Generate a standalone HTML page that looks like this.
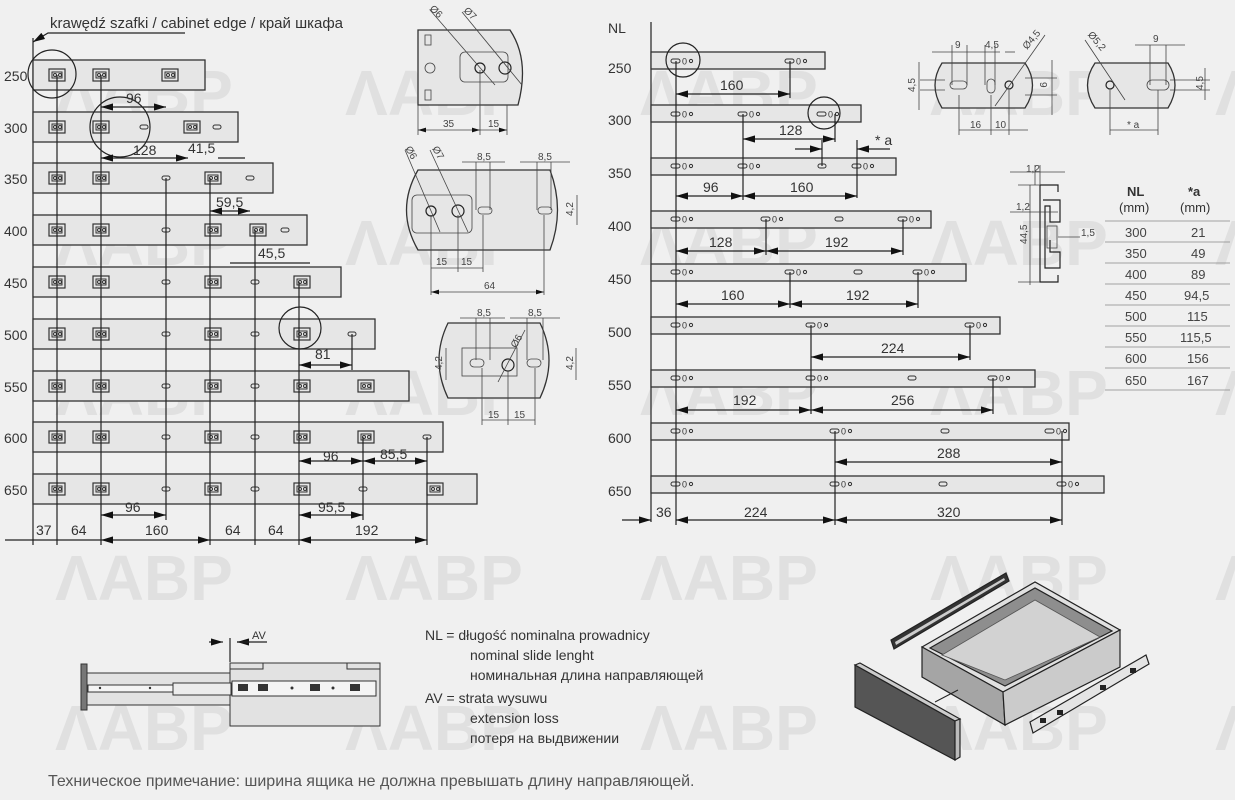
<!DOCTYPE html>
<html><head><meta charset="utf-8"><style>
html,body{margin:0;padding:0;background:#f0f0f0;}
svg{display:block;font-family:"Liberation Sans","DejaVu Sans",sans-serif;}
.wm{font-size:64px;font-weight:bold;fill:#e0e0e0;}
.r{fill:#e6e6e6;stroke:#333;stroke-width:1.3}
.l{stroke:#222;stroke-width:1.2;fill:none}
.t{stroke:#444;stroke-width:0.8;fill:none}
.n{font-size:14px;fill:#333}
.s{font-size:10px;fill:#444}
.lab{font-size:14px;fill:#333}
</style></head><body>
<svg width="1235" height="800" viewBox="0 0 1235 800" xmlns="http://www.w3.org/2000/svg">
<defs>
<marker id="a" viewBox="0 0 10 6" refX="10" refY="3" markerWidth="10" markerHeight="6" orient="auto-start-reverse"><path d="M0,0L10,3L0,6z" fill="#111"/></marker>
<g id="ic"><rect x="-8" y="-6" width="16" height="12" fill="none" stroke="#333" stroke-width="1.2"/><rect x="-5" y="-3" width="10" height="6" fill="none" stroke="#333"/><circle cx="-2" cy="0" r="1.5" fill="none" stroke="#333"/><circle cx="3" cy="0" r="1.5" fill="none" stroke="#333"/></g>
<g id="sl"><rect x="-4" y="-2" width="8" height="4" rx="2" fill="none" stroke="#333"/></g>
<g id="rh"><rect x="-5" y="-2" width="9" height="4" rx="2" fill="none" stroke="#333"/><text x="6" y="3.5" font-size="9" fill="#333">0</text><circle cx="15" cy="0" r="1.6" fill="none" stroke="#333"/></g>
</defs>

<g class="wm">
<text x="55" y="115">ΛАВР</text><text x="345" y="115">ΛАВР</text><text x="640" y="115">ΛАВР</text><text x="930" y="115">ΛАВР</text><text x="1215" y="115">Λ</text>
<text x="55" y="265">ΛАВР</text><text x="345" y="265">ΛАВР</text><text x="640" y="265">ΛАВР</text><text x="930" y="265">ΛАВР</text><text x="1215" y="265">Λ</text>
<text x="55" y="415">ΛАВР</text><text x="345" y="415">ΛАВР</text><text x="640" y="415">ΛАВР</text><text x="930" y="415">ΛАВР</text><text x="1215" y="415">Λ</text>
<text x="55" y="600">ΛАВР</text><text x="345" y="600">ΛАВР</text><text x="640" y="600">ΛАВР</text><text x="930" y="600">ΛАВР</text><text x="1215" y="600">Λ</text>
<text x="55" y="750">ΛАВР</text><text x="345" y="750">ΛАВР</text><text x="640" y="750">ΛАВР</text><text x="930" y="750">ΛАВР</text><text x="1215" y="750">Λ</text>
</g>

<text x="50" y="28" font-size="15" fill="#333">krawędź szafki / cabinet edge / край шкафа</text>
<path class="l" d="M185,33H48L33,42" marker-end="url(#a)"/>
<line class="l" x1="33" y1="38" x2="33" y2="545"/>
<g class="r">
<rect x="33" y="60" width="172" height="30"/>
<rect x="33" y="112" width="205" height="30"/>
<rect x="33" y="163" width="240" height="30"/>
<rect x="33" y="215" width="274" height="30"/>
<rect x="33" y="267" width="308" height="30"/>
<rect x="33" y="319" width="342" height="30"/>
<rect x="33" y="371" width="376" height="30"/>
<rect x="33" y="422" width="410" height="30"/>
<rect x="33" y="474" width="444" height="30"/>
</g>
<g font-size="14" fill="#333">
<text x="4" y="81">250</text><text x="4" y="133">300</text><text x="4" y="184">350</text><text x="4" y="236">400</text><text x="4" y="288">450</text><text x="4" y="340">500</text><text x="4" y="392">550</text><text x="4" y="443">600</text><text x="4" y="495">650</text>
</g>
<g>
<use href="#ic" x="57" y="75"/><use href="#ic" x="101" y="75"/><use href="#ic" x="170" y="75"/>
<use href="#ic" x="57" y="127"/><use href="#ic" x="101" y="127"/><use href="#sl" x="144" y="127"/><use href="#ic" x="192" y="127"/><use href="#sl" x="217" y="127"/>
<use href="#ic" x="57" y="178"/><use href="#ic" x="101" y="178"/><use href="#sl" x="166" y="178"/><use href="#ic" x="213" y="178"/><use href="#sl" x="250" y="178"/>
<use href="#ic" x="57" y="230"/><use href="#ic" x="101" y="230"/><use href="#sl" x="166" y="230"/><use href="#ic" x="213" y="230"/><use href="#ic" x="258" y="230"/><use href="#sl" x="285" y="230"/>
<use href="#ic" x="57" y="282"/><use href="#ic" x="101" y="282"/><use href="#sl" x="166" y="282"/><use href="#ic" x="213" y="282"/><use href="#sl" x="255" y="282"/><use href="#ic" x="302" y="282"/>
<use href="#ic" x="57" y="334"/><use href="#ic" x="101" y="334"/><use href="#sl" x="166" y="334"/><use href="#ic" x="213" y="334"/><use href="#sl" x="255" y="334"/><use href="#ic" x="302" y="334"/><use href="#sl" x="352" y="334"/>
<use href="#ic" x="57" y="386"/><use href="#ic" x="101" y="386"/><use href="#sl" x="166" y="386"/><use href="#ic" x="213" y="386"/><use href="#sl" x="255" y="386"/><use href="#ic" x="302" y="386"/><use href="#ic" x="366" y="386"/>
<use href="#ic" x="57" y="437"/><use href="#ic" x="101" y="437"/><use href="#sl" x="166" y="437"/><use href="#ic" x="213" y="437"/><use href="#sl" x="255" y="437"/><use href="#ic" x="302" y="437"/><use href="#ic" x="366" y="437"/><use href="#sl" x="427" y="437"/>
<use href="#ic" x="57" y="489"/><use href="#ic" x="101" y="489"/><use href="#sl" x="166" y="489"/><use href="#ic" x="213" y="489"/><use href="#sl" x="255" y="489"/><use href="#ic" x="302" y="489"/><use href="#sl" x="363" y="489"/><use href="#ic" x="435" y="489"/>
</g>
<g class="l">
<line x1="57" y1="75" x2="57" y2="545"/><line x1="101" y1="75" x2="101" y2="545"/>
<line x1="166" y1="178" x2="166" y2="520"/><line x1="210" y1="178" x2="210" y2="545"/>
<line x1="255" y1="230" x2="255" y2="545"/><line x1="299" y1="282" x2="299" y2="545"/>
<line x1="427" y1="437" x2="427" y2="545"/><line x1="363" y1="437" x2="363" y2="520"/>
<line x1="352" y1="334" x2="352" y2="370"/>
</g>
<circle class="l" cx="52" cy="74" r="24"/>
<circle class="l" cx="120" cy="127" r="30"/>
<circle class="l" cx="300" cy="328" r="21"/>
<g class="l" marker-start="url(#a)" marker-end="url(#a)">
<line x1="101" y1="107" x2="166" y2="107"/>
<line x1="101" y1="158" x2="188" y2="158"/>
<line x1="210" y1="211" x2="250" y2="211"/>
<line x1="299" y1="365" x2="352" y2="365"/>
<line x1="299" y1="461" x2="363" y2="461"/>
<line x1="363" y1="461" x2="427" y2="461"/>
<line x1="101" y1="515" x2="166" y2="515"/>
<line x1="299" y1="515" x2="363" y2="515"/>
<line x1="101" y1="540" x2="210" y2="540"/>
<line x1="299" y1="540" x2="427" y2="540"/>
</g>
<g class="l"><line x1="5" y1="540" x2="101" y2="540"/><line x1="210" y1="540" x2="299" y2="540"/><line x1="218" y1="158" x2="245" y2="158"/><line x1="230" y1="263" x2="310" y2="263"/></g>
<g class="n">
<text x="126" y="103">96</text><text x="133" y="155">128</text><text x="188" y="153">41,5</text><text x="216" y="207">59,5</text><text x="258" y="258">45,5</text>
<text x="315" y="359">81</text><text x="323" y="461">96</text><text x="380" y="459">85,5</text><text x="125" y="512">96</text><text x="318" y="512">95,5</text>
<text x="36" y="535">37</text><text x="71" y="535">64</text><text x="145" y="535">160</text><text x="225" y="535">64</text><text x="268" y="535">64</text><text x="355" y="535">192</text>
</g>

<g>
<path class="r" d="M418,30H510Q530,60 518,105H418Z"/>
<rect class="t" x="460" y="52" width="48" height="30" rx="5"/>
<circle class="t" cx="430" cy="68" r="5"/><rect class="t" x="425" y="35" width="6" height="10"/><rect class="t" x="425" y="90" width="6" height="10"/>
<circle class="l" cx="480" cy="68" r="5"/><circle class="l" cx="505" cy="68" r="6"/>
<line class="t" x1="430" y1="10" x2="495" y2="85"/><line class="t" x1="462" y1="12" x2="522" y2="85"/>
<text class="s" x="428" y="12" transform="rotate(45 432 12)">Ø6</text><text class="s" x="462" y="14" transform="rotate(45 466 14)">Ø7</text>
<line class="t" x1="418" y1="105" x2="418" y2="135"/><line class="t" x1="480" y1="70" x2="480" y2="135"/><line class="t" x1="507" y1="105" x2="507" y2="135"/>
<line class="t" x1="418" y1="130" x2="480" y2="130" marker-start="url(#a)" marker-end="url(#a)"/><line class="t" x1="480" y1="130" x2="507" y2="130" marker-end="url(#a)"/>
<text class="s" x="443" y="127">35</text><text class="s" x="488" y="127">15</text>

<path class="r" d="M418,170H550Q565,210 550,250H418Q395,210 418,170Z"/>
<rect class="t" x="412" y="195" width="60" height="38" rx="5"/>
<circle class="l" cx="431" cy="211" r="5"/><circle class="l" cx="458" cy="211" r="6"/>
<rect class="t" x="478" y="207" width="14" height="7" rx="3.5"/><rect class="t" x="538" y="207" width="14" height="7" rx="3.5"/>
<line class="t" x1="405" y1="150" x2="440" y2="232"/><line class="t" x1="430" y1="150" x2="468" y2="232"/>
<text class="s" x="403" y="152" transform="rotate(60 407 152)">Ø6</text><text class="s" x="430" y="152" transform="rotate(60 434 152)">Ø7</text>
<g class="t"><line x1="476" y1="162" x2="476" y2="210"/><line x1="490" y1="162" x2="490" y2="210"/><line x1="537" y1="162" x2="537" y2="210"/><line x1="551" y1="162" x2="551" y2="210"/>
<line x1="431" y1="215" x2="431" y2="295"/><line x1="458" y1="215" x2="458" y2="272"/><line x1="483" y1="215" x2="483" y2="272"/><line x1="544" y1="215" x2="544" y2="295"/>
<line x1="462" y1="162" x2="505" y2="162"/><line x1="520" y1="162" x2="570" y2="162"/>
<line x1="431" y1="268" x2="483" y2="268"/><line x1="431" y1="292" x2="544" y2="292" marker-start="url(#a)" marker-end="url(#a)"/>
<line x1="577" y1="195" x2="577" y2="225"/></g>
<text class="s" x="477" y="160">8,5</text><text class="s" x="538" y="160">8,5</text><text class="s" x="436" y="265">15</text><text class="s" x="461" y="265">15</text><text class="s" x="484" y="289">64</text>
<text class="s" x="573" y="216" transform="rotate(-90 573 216)">4,2</text>

<path class="r" d="M448,323H540Q558,360 540,398H448Q430,360 448,323Z"/>
<rect class="t" x="462" y="348" width="55" height="28"/>
<rect class="t" x="470" y="359" width="14" height="8" rx="4"/><rect class="t" x="527" y="359" width="14" height="8" rx="4"/>
<circle class="l" cx="508" cy="365" r="6"/>
<line class="t" x1="498" y1="382" x2="525" y2="330"/>
<text class="s" x="514" y="345" transform="rotate(-60 518 345)">Ø6</text>
<g class="t"><line x1="460" y1="318" x2="505" y2="318"/><line x1="510" y1="318" x2="560" y2="318"/><line x1="476" y1="318" x2="476" y2="360"/><line x1="490" y1="318" x2="490" y2="360"/><line x1="527" y1="318" x2="527" y2="360"/><line x1="543" y1="318" x2="543" y2="360"/>
<line x1="482" y1="368" x2="482" y2="425"/><line x1="508" y1="371" x2="508" y2="425"/><line x1="535" y1="368" x2="535" y2="425"/><line x1="482" y1="420" x2="535" y2="420"/>
<line x1="446" y1="348" x2="446" y2="380"/><line x1="576" y1="348" x2="576" y2="380"/></g>
<text class="s" x="477" y="316">8,5</text><text class="s" x="528" y="316">8,5</text><text class="s" x="488" y="418">15</text><text class="s" x="514" y="418">15</text>
<text class="s" x="442" y="370" transform="rotate(-90 442 370)">4,2</text><text class="s" x="573" y="370" transform="rotate(-90 573 370)">4,2</text>
</g>

<text x="608" y="33" font-size="14" fill="#333">NL</text>
<line class="l" x1="651" y1="22" x2="651" y2="522"/>
<g class="r">
<rect x="651" y="52" width="174" height="17"/>
<rect x="651" y="105" width="210" height="17"/>
<rect x="651" y="158" width="245" height="17"/>
<rect x="651" y="211" width="280" height="17"/>
<rect x="651" y="264" width="315" height="17"/>
<rect x="651" y="317" width="349" height="17"/>
<rect x="651" y="370" width="384" height="17"/>
<rect x="651" y="423" width="418" height="17"/>
<rect x="651" y="476" width="453" height="17"/>
</g>
<g font-size="14" fill="#333">
<text x="608" y="73">250</text><text x="608" y="125">300</text><text x="608" y="178">350</text><text x="608" y="231">400</text><text x="608" y="284">450</text><text x="608" y="337">500</text><text x="608" y="390">550</text><text x="608" y="443">600</text><text x="608" y="496">650</text>
</g>
<g>
<use href="#rh" x="676" y="61"/><use href="#rh" x="790" y="61"/>
<use href="#rh" x="676" y="114"/><use href="#rh" x="743" y="114"/><use href="#rh" x="822" y="114"/>
<use href="#rh" x="676" y="166"/><use href="#rh" x="743" y="166"/><use href="#sl" x="822" y="166"/><use href="#rh" x="857" y="166"/>
<use href="#rh" x="676" y="219"/><use href="#rh" x="766" y="219"/><use href="#sl" x="839" y="219"/><use href="#rh" x="903" y="219"/>
<use href="#rh" x="676" y="272"/><use href="#rh" x="790" y="272"/><use href="#sl" x="858" y="272"/><use href="#rh" x="918" y="272"/>
<use href="#rh" x="676" y="325"/><use href="#rh" x="811" y="325"/><use href="#rh" x="970" y="325"/>
<use href="#rh" x="676" y="378"/><use href="#rh" x="811" y="378"/><use href="#sl" x="912" y="378"/><use href="#rh" x="993" y="378"/>
<use href="#rh" x="676" y="431"/><use href="#rh" x="835" y="431"/><use href="#sl" x="945" y="431"/><use href="#rh" x="1050" y="431"/>
<use href="#rh" x="676" y="484"/><use href="#rh" x="835" y="484"/><use href="#sl" x="943" y="484"/><use href="#rh" x="1062" y="484"/>
</g>
<g class="l">
<line x1="676" y1="61" x2="676" y2="525"/><line x1="790" y1="61" x2="790" y2="98"/><line x1="743" y1="114" x2="743" y2="200"/><line x1="835" y1="114" x2="835" y2="142"/>
<line x1="822" y1="140" x2="822" y2="166"/><line x1="857" y1="140" x2="857" y2="198"/><line x1="766" y1="219" x2="766" y2="255"/><line x1="903" y1="219" x2="903" y2="255"/>
<line x1="790" y1="272" x2="790" y2="308"/><line x1="918" y1="272" x2="918" y2="308"/><line x1="811" y1="325" x2="811" y2="414"/><line x1="970" y1="325" x2="970" y2="360"/>
<line x1="993" y1="378" x2="993" y2="414"/><line x1="835" y1="431" x2="835" y2="525"/><line x1="1062" y1="431" x2="1062" y2="525"/>
</g>
<circle class="l" cx="683" cy="60" r="17"/><circle class="l" cx="824" cy="113" r="16"/>
<g class="l" marker-start="url(#a)" marker-end="url(#a)">
<line x1="676" y1="94" x2="790" y2="94"/><line x1="743" y1="139" x2="835" y2="139"/>
<line x1="676" y1="196" x2="743" y2="196"/><line x1="743" y1="196" x2="857" y2="196"/>
<line x1="676" y1="251" x2="766" y2="251"/><line x1="766" y1="251" x2="903" y2="251"/>
<line x1="676" y1="304" x2="790" y2="304"/><line x1="790" y1="304" x2="918" y2="304"/>
<line x1="811" y1="357" x2="970" y2="357"/>
<line x1="676" y1="410" x2="811" y2="410"/><line x1="811" y1="410" x2="993" y2="410"/>
<line x1="835" y1="462" x2="1062" y2="462"/>
<line x1="676" y1="520" x2="835" y2="520"/><line x1="835" y1="520" x2="1062" y2="520"/>
</g>
<g class="l"><line x1="795" y1="149" x2="822" y2="149" marker-end="url(#a)"/><line x1="890" y1="149" x2="857" y2="149" marker-end="url(#a)"/><line x1="622" y1="520" x2="651" y2="520" marker-end="url(#a)"/></g>
<g class="n">
<text x="720" y="90">160</text><text x="779" y="135">128</text><text x="875" y="145">* a</text>
<text x="703" y="192">96</text><text x="790" y="192">160</text>
<text x="709" y="247">128</text><text x="825" y="247">192</text>
<text x="721" y="300">160</text><text x="846" y="300">192</text>
<text x="881" y="353">224</text>
<text x="733" y="405">192</text><text x="891" y="405">256</text>
<text x="937" y="458">288</text>
<text x="656" y="517">36</text><text x="744" y="517">224</text><text x="937" y="517">320</text>
</g>

<g>
<path class="r" d="M942,63H1025Q1040,85 1025,108H942Q928,85 942,63Z"/>
<rect class="t" x="950" y="81" width="17" height="8" rx="4"/><rect class="t" x="987" y="79" width="8" height="14" rx="4"/><circle class="l" cx="1009" cy="85" r="4"/>
<line class="t" x1="995" y1="106" x2="1045" y2="35"/>
<g class="t"><line x1="932" y1="52" x2="1000" y2="52"/><line x1="1005" y1="52" x2="1015" y2="52"/><line x1="952" y1="45" x2="952" y2="85"/><line x1="967" y1="45" x2="967" y2="85"/><line x1="985" y1="45" x2="985" y2="85"/><line x1="995" y1="45" x2="995" y2="85"/>
<line x1="920" y1="80" x2="945" y2="80"/><line x1="920" y1="90" x2="945" y2="90"/><line x1="919" y1="62" x2="919" y2="110"/>
<line x1="1025" y1="78" x2="1057" y2="78"/><line x1="1025" y1="95" x2="1057" y2="95"/><line x1="1052" y1="60" x2="1052" y2="115"/>
<line x1="959" y1="95" x2="959" y2="135"/><line x1="991" y1="95" x2="991" y2="135"/><line x1="1009" y1="90" x2="1009" y2="135"/><line x1="959" y1="130" x2="1028" y2="130"/></g>
<text class="s" x="955" y="48">9</text><text class="s" x="985" y="48">4,5</text><text class="s" x="1027" y="50" transform="rotate(-50 1027 50)">Ø4,5</text>
<text class="s" x="915" y="92" transform="rotate(-90 915 92)">4,5</text><text class="s" x="1050" y="92" transform="rotate(90 1050 82)">9</text>
<text class="s" x="970" y="128">16</text><text class="s" x="995" y="128">10</text>

<path class="r" d="M1095,63H1168Q1182,85 1168,108H1095Q1080,85 1095,63Z"/>
<circle class="l" cx="1110" cy="85" r="4"/><rect class="t" x="1147" y="80" width="22" height="10" rx="5"/>
<line class="t" x1="1085" y1="40" x2="1125" y2="100"/>
<text class="s" x="1086" y="38" transform="rotate(50 1090 38)">Ø5,2</text>
<g class="t"><line x1="1135" y1="45" x2="1185" y2="45"/><line x1="1150" y1="45" x2="1150" y2="85"/><line x1="1166" y1="45" x2="1166" y2="85"/>
<line x1="1170" y1="80" x2="1210" y2="80"/><line x1="1170" y1="90" x2="1210" y2="90"/><line x1="1205" y1="68" x2="1205" y2="100"/>
<line x1="1110" y1="90" x2="1110" y2="135"/><line x1="1158" y1="90" x2="1158" y2="135"/><line x1="1110" y1="130" x2="1158" y2="130"/></g>
<text class="s" x="1153" y="42">9</text><text class="s" x="1203" y="90" transform="rotate(-90 1203 90)">4,5</text><text class="s" x="1127" y="128">* a</text>

<path class="l" d="M1040,185H1058V192M1040,185V282H1058V275" />
<path class="l" d="M1043,200H1060V222H1050V206H1045V268H1060V252H1050V240" />
<rect class="t" x="1047" y="226" width="10" height="22"/>
<g class="t"><line x1="1010" y1="172" x2="1065" y2="172"/><line x1="1035" y1="165" x2="1035" y2="185"/><line x1="1040" y1="165" x2="1040" y2="185"/>
<line x1="1010" y1="212" x2="1058" y2="212"/><line x1="1030" y1="185" x2="1030" y2="285"/><line x1="1058" y1="237" x2="1080" y2="237"/><line x1="1018" y1="185" x2="1040" y2="185"/><line x1="1018" y1="282" x2="1040" y2="282"/></g>
<text class="s" x="1026" y="172">1,2</text><text class="s" x="1016" y="210">1,2</text><text class="s" x="1081" y="236">1,5</text><text class="s" x="1027" y="244" transform="rotate(-90 1027 244)">44,5</text>
</g>

<g font-size="13" fill="#333">
<text x="1127" y="196" font-weight="bold">NL</text><text x="1188" y="196" font-weight="bold">*a</text>
<text x="1119" y="212">(mm)</text><text x="1180" y="212">(mm)</text>
</g>
<g stroke="#888" stroke-width="0.8">
<line x1="1105" y1="221" x2="1230" y2="221"/><line x1="1105" y1="242" x2="1230" y2="242"/><line x1="1105" y1="263" x2="1230" y2="263"/><line x1="1105" y1="284" x2="1230" y2="284"/>
<line x1="1105" y1="305" x2="1230" y2="305"/><line x1="1105" y1="326" x2="1230" y2="326"/><line x1="1105" y1="347" x2="1230" y2="347"/><line x1="1105" y1="368" x2="1230" y2="368"/><line x1="1105" y1="390" x2="1230" y2="390"/>
</g>
<g font-size="13" fill="#444">
<text x="1125" y="237">300</text><text x="1191" y="237">21</text>
<text x="1125" y="258">350</text><text x="1191" y="258">49</text>
<text x="1125" y="279">400</text><text x="1191" y="279">89</text>
<text x="1125" y="300">450</text><text x="1184" y="300">94,5</text>
<text x="1125" y="321">500</text><text x="1187" y="321">115</text>
<text x="1125" y="342">550</text><text x="1180" y="342">115,5</text>
<text x="1125" y="363">600</text><text x="1187" y="363">156</text>
<text x="1125" y="385">650</text><text x="1187" y="385">167</text>
</g>

<rect x="81" y="664" width="6" height="46" fill="#777" stroke="#333"/>
<rect x="87" y="673" width="145" height="32" fill="#e2e2e2" stroke="#333"/>
<rect x="230" y="663" width="150" height="63" fill="#e2e2e2" stroke="#333"/>
<rect x="230" y="663" width="33" height="6" fill="none" stroke="#333"/><rect x="347" y="663" width="33" height="6" fill="none" stroke="#333"/>
<rect x="88" y="685" width="146" height="7" fill="#f4f4f4" stroke="#333"/>
<rect x="173" y="683" width="58" height="12" fill="#ececec" stroke="#333"/>
<rect x="232" y="681" width="144" height="15" fill="#f4f4f4" stroke="#333"/>
<g fill="#333"><rect x="238" y="684" width="10" height="7"/><rect x="258" y="684" width="10" height="7"/><rect x="310" y="684" width="10" height="7"/><rect x="350" y="684" width="10" height="7"/><circle cx="292" cy="688" r="1.5"/><circle cx="333" cy="688" r="1.5"/><circle cx="100" cy="688" r="1.2"/><circle cx="150" cy="688" r="1.2"/></g>
<g class="l"><line x1="230" y1="638" x2="230" y2="662"/><line x1="209" y1="642" x2="223" y2="642" marker-end="url(#a)"/><line x1="250" y1="642" x2="237" y2="642" marker-end="url(#a)"/><line x1="237" y1="642" x2="267" y2="642"/></g>
<text x="252" y="639" font-size="11" fill="#333">AV</text>

<g class="lab" font-size="16" fill="#444">
<text x="425" y="640">NL = długość nominalna prowadnicy</text>
<text x="470" y="660">nominal slide lenght</text>
<text x="470" y="680">номинальная длина направляющей</text>
<text x="425" y="703">AV = strata wysuwu</text>
<text x="470" y="723">extension loss</text>
<text x="470" y="743">потеря на выдвижении</text>
</g>
<text x="48" y="786" font-size="16" fill="#555">Техническое примечание: ширина ящика не должна превышать длину направляющей.</text>

<g stroke="#222" stroke-width="1.2">
<path d="M891,640L1006,573L1009,581L894,649Z" fill="#333"/>
<path d="M895,642L1004,578L1005,580L896,645Z" fill="#ccc" stroke="none"/>
<path d="M1030,722L1146,655L1149,664L1033,733Z" fill="#e4e4e4"/>
<g fill="#222" stroke="none"><rect x="1040" y="718" width="6" height="5"/><rect x="1057" y="710" width="6" height="5"/><rect x="1100" y="685" width="6" height="5"/><rect x="1130" y="668" width="6" height="5"/></g>
<path d="M855,665L955,721V760L855,707Z" fill="#555"/>
<path d="M855,665L860,663L960,719L955,721Z" fill="#ccc"/>
<path d="M955,721L960,719V757L955,760Z" fill="#bbb"/>
<path d="M922,647L1035,582L1120,630L1003,692Z" fill="#e0e0e0"/>
<path d="M930,648L1035,588L1112,631L1005,686Z" fill="#8e8e8e"/>
<path d="M942,655L1035,600L1100,637L1005,680Z" fill="#d2d2d2" stroke="#555" stroke-width="0.8"/>
<path d="M922,647L1003,692L1005,725L922,677Z" fill="#a5a5a5"/>
<path d="M1003,692L1120,630V667L1005,725Z" fill="#cbcbcb"/>
</g>
<line x1="935" y1="702" x2="958" y2="690" stroke="#222"/>
</svg>
</body></html>
